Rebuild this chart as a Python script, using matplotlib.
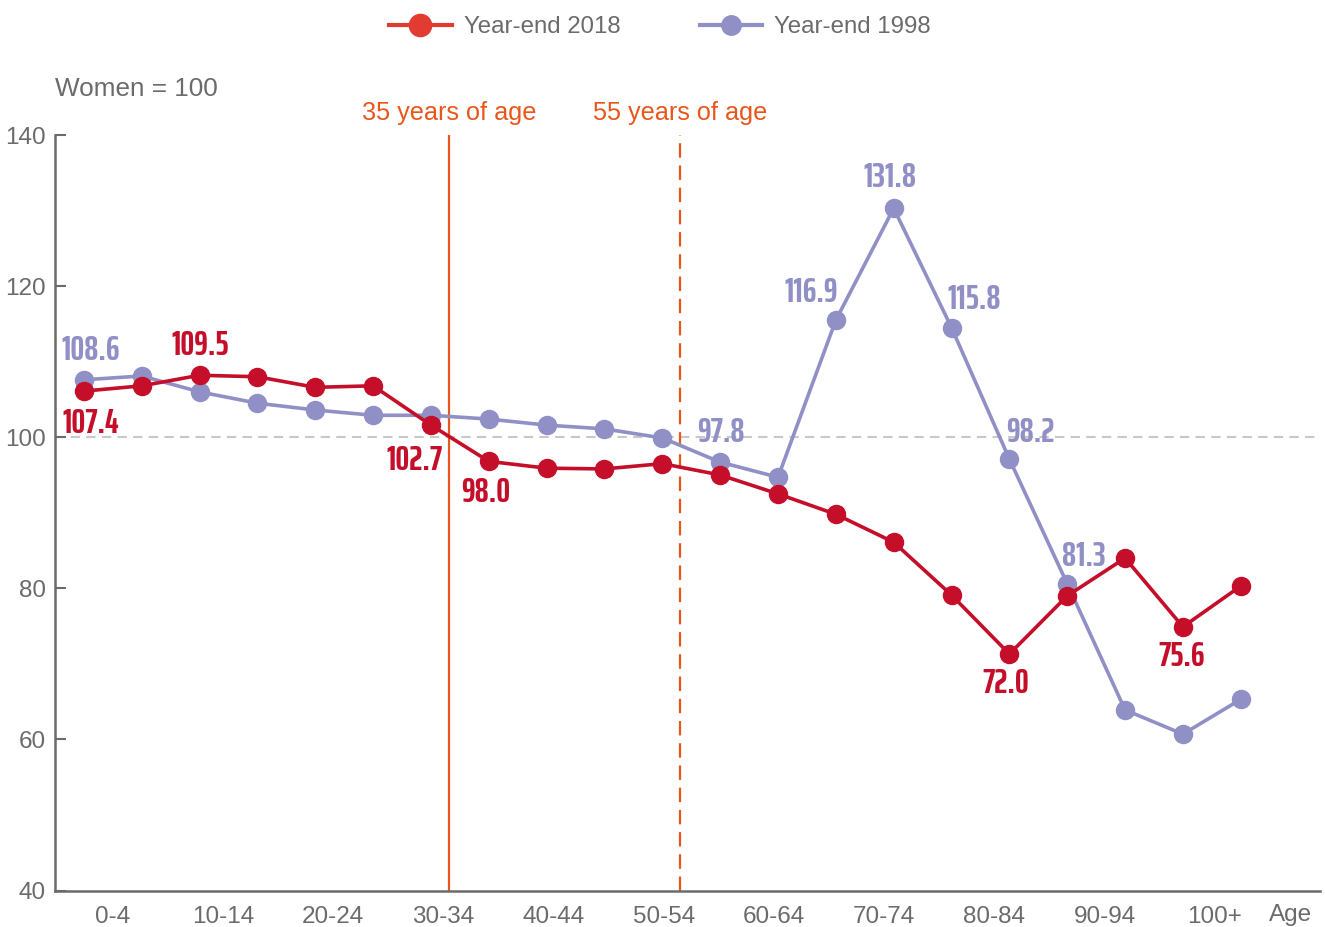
import matplotlib
matplotlib.use("Agg")
import matplotlib.pyplot as plt
from matplotlib.lines import Line2D
from matplotlib import font_manager
import numpy as np

# Age groups (21 five-year bands) and the ratio of men per 100 women
age_groups = ["0-4", "5-9", "10-14", "15-19", "20-24", "25-29", "30-34", "35-39",
              "40-44", "45-49", "50-54", "55-59", "60-64", "65-69", "70-74", "75-79",
              "80-84", "85-89", "90-94", "95-99", "100+"]
ratio_2018 = [106.1, 106.8, 108.2, 108.0, 106.6, 106.8, 101.6, 96.8, 95.9, 95.8, 96.5,
              95.0, 92.5, 89.8, 86.1, 79.1, 71.3, 79.0, 84.0, 74.9, 80.3]
ratio_1998 = [107.6, 108.1, 106.0, 104.5, 103.6, 102.9, 102.9, 102.4, 101.6, 101.1, 99.9,
              96.7, 94.7, 115.5, 130.3, 114.5, 97.1, 80.6, 63.9, 60.7, 65.3]

# Annotated values: (index, label, offset in pixels)
labels_2018 = [(0, "107.4", (7, -32)), (2, "109.5", (1, 30)), (6, "102.7", (-16, -35)),
               (7, "98.0", (-3, -31)), (16, "72.0", (-4, -29)), (19, "75.6", (-1, -30))]
labels_1998 = [(0, "108.6", (7, 29)), (11, "97.8", (1, 30)), (13, "116.9", (-25, 28)),
               (14, "131.8", (-4, 31)), (15, "115.8", (23, 28)), (16, "98.2", (21, 27)),
               (17, "81.3", (17, 27))]

tick_labels = ["0-4", "10-14", "20-24", "30-34", "40-44", "50-54", "60-64", "70-74",
               "80-84", "90-94", "100+"]
y_ticks = [40, 60, 80, 100, 120, 140]

RED = "#c50e29"
RED_LEG = "#e23b32"
PURPLE = "#9090c6"
ORANGE = "#e9561c"
GRAY = "#6b6b6b"

plt.rcParams["font.family"] = ["Liberation Sans", "DejaVu Sans"]

# look for the narrowest bold face for the value labels
stretch_rank = {"ultra-condensed": 0, "extra-condensed": 1, "condensed": 2,
                "semi-condensed": 3}
cands = []
for f in font_manager.fontManager.ttflist:
    rank = stretch_rank.get(str(f.stretch), 9)
    if "ExtraCondensed" in f.name or "UltraCondensed" in f.name:
        rank = min(rank, 1)
    elif "Condensed" in f.name or "Narrow" in f.name:
        rank = min(rank, 2)
    if rank < 9 and f.style == "normal":
        w = f.weight if isinstance(f.weight, int) else 400
        cands.append((rank, abs(w - 700), f.name, f.fname))
cands.sort()
if cands:
    value_font = font_manager.FontProperties(fname=cands[0][3], size=25)
else:
    value_font = font_manager.FontProperties(family="Liberation Sans", weight="bold",
                                             size=19)

fig = plt.figure(figsize=(13.25, 9.27), dpi=100)
ax = fig.add_axes([55 / 1325, 1 - 890.5 / 927, 1265 / 1325, 755.5 / 927])

x = np.arange(len(age_groups))

# reference line at 100
ax.axhline(100, color="#c8c8c8", lw=1.5, dashes=(4.5, 3), zorder=1)

ax.plot(x, ratio_1998, color=PURPLE, lw=2.6, marker="o", ms=13, zorder=3)
ax.plot(x, ratio_2018, color=RED, lw=2.6, marker="o", ms=13, zorder=4)

# age markers
ax.axvline(6.31, color=ORANGE, lw=1.6, zorder=2)
ax.axvline(10.30, color=ORANGE, lw=1.6, dashes=(6.5, 3.5), zorder=2)
ax.text(6.31, 142.9, "35 years of age", color=ORANGE, fontsize=18.2, ha="center",
        va="center", clip_on=False)
ax.text(10.30, 142.9, "55 years of age", color=ORANGE, fontsize=18.2, ha="center",
        va="center", clip_on=False)

for i, s, off in labels_2018:
    ax.annotate(s, (x[i], ratio_2018[i]), xytext=off, textcoords="offset pixels",
                ha="center", va="center", color=RED, fontproperties=value_font, zorder=5)
for i, s, off in labels_1998:
    ax.annotate(s, (x[i], ratio_1998[i]), xytext=off, textcoords="offset pixels",
                ha="center", va="center", color=PURPLE, fontproperties=value_font, zorder=5)

ax.set_xlim(-0.5, 21.37)
ax.set_ylim(40, 140)
ax.set_yticks(y_ticks)
ax.set_yticklabels([str(v) for v in y_ticks])
ax.set_xticks(0.5 + 1.905 * np.arange(len(tick_labels)))
ax.set_xticklabels(tick_labels)
ax.tick_params(axis="y", direction="in", length=8, width=1.5, color=GRAY,
               labelcolor=GRAY, labelsize=17.5, pad=6.5)
ax.tick_params(axis="x", length=0, labelcolor=GRAY, labelsize=17.5, pad=11)

for side in ["top", "right"]:
    ax.spines[side].set_visible(False)
for side in ["left", "bottom"]:
    ax.spines[side].set_color(GRAY)
    ax.spines[side].set_linewidth(1.8)

fig.text(1291 / 1325, 1 - 915 / 927, "Age", color=GRAY, fontsize=17.5,
         ha="center", va="center")
fig.text(55 / 1325, 1 - 89 / 927, "Women = 100", color=GRAY, fontsize=18.8,
         ha="left", va="center")

handles = [Line2D([], [], color=RED_LEG, lw=3, marker="o", ms=16),
           Line2D([], [], color=PURPLE, lw=3, marker="o", ms=14)]
fig.legend(handles, ["Year-end 2018", "Year-end 1998"], loc="center",
           bbox_to_anchor=(660 / 1325, 1 - 27 / 927), ncol=2, frameon=False,
           fontsize=17.3, labelcolor=GRAY, handlelength=2.6, handletextpad=0.5,
           columnspacing=3.3)

plt.savefig("out.png", dpi=100)
